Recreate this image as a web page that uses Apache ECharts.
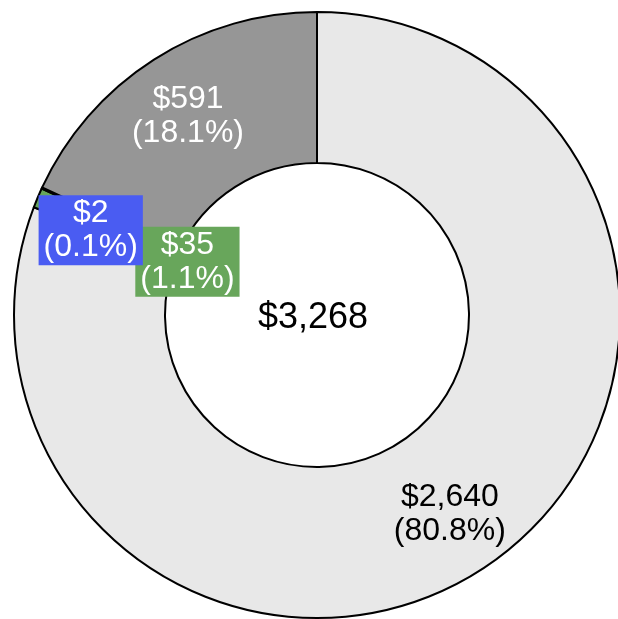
<!DOCTYPE html>
<html>
<head>
<meta charset="utf-8">
<script src="https://cdn.jsdelivr.net/npm/echarts@6/dist/echarts.min.js"></script>
<style>
  html, body { margin: 0; padding: 0; background: #fff; }
  #chart { width: 618px; height: 619px; }
</style>
</head>
<body>
<div id="chart"></div>
<script>
const categories = ['Other', 'Green', 'Blue', 'Gray'];
const values = [2640, 35, 2, 591];
const colors = ['#e8e8e8', '#68a65b', '#4a5cf2', '#969696'];
const labelColors = ['#000', '#fff', '#fff', '#fff'];
// nudge labels so the small ones don't collide
const labelShift = [[2, 9], [83, 36], [-17, 12], [-5, -5]];

const total = values.reduce((a, b) => a + b, 0);
const money = v => '$' + v.toLocaleString('en-US');
const FONT = 'Liberation Sans, Arial, sans-serif';

const chart = echarts.init(document.getElementById('chart'));

chart.setOption({
  animation: false,
  graphic: [{
    type: 'text',
    x: 313,
    y: 318,
    style: {
      text: money(total),
      fontSize: 36,
      fontFamily: FONT,
      fill: '#000',
      align: 'center',
      verticalAlign: 'middle',
    },
  }],
  series: [{
    type: 'pie',
    center: [317, 315],
    radius: [152, 303],
    startAngle: 90,
    clockwise: true,
    avoidLabelOverlap: false,
    itemStyle: {
      borderColor: '#000',
      borderWidth: 2,
    },
    label: {
      show: true,
      position: 'inside',
      fontSize: 32,
      lineHeight: 34,
      fontFamily: FONT,
      formatter: p => money(p.value) + '\n(' + (p.value / total * 100).toFixed(1) + '%)',
    },
    labelLayout: p => ({ dx: labelShift[p.dataIndex][0], dy: labelShift[p.dataIndex][1] }),
    emphasis: { disabled: true },
    data: values.map((v, i) => ({
      name: categories[i],
      value: v,
      itemStyle: { color: colors[i] },
      label: i === 1 || i === 2
        ? { color: labelColors[i], backgroundColor: colors[i], padding: [1, 5] }
        : { color: labelColors[i] },
    })),
  }],
});
</script>
</body>
</html>
